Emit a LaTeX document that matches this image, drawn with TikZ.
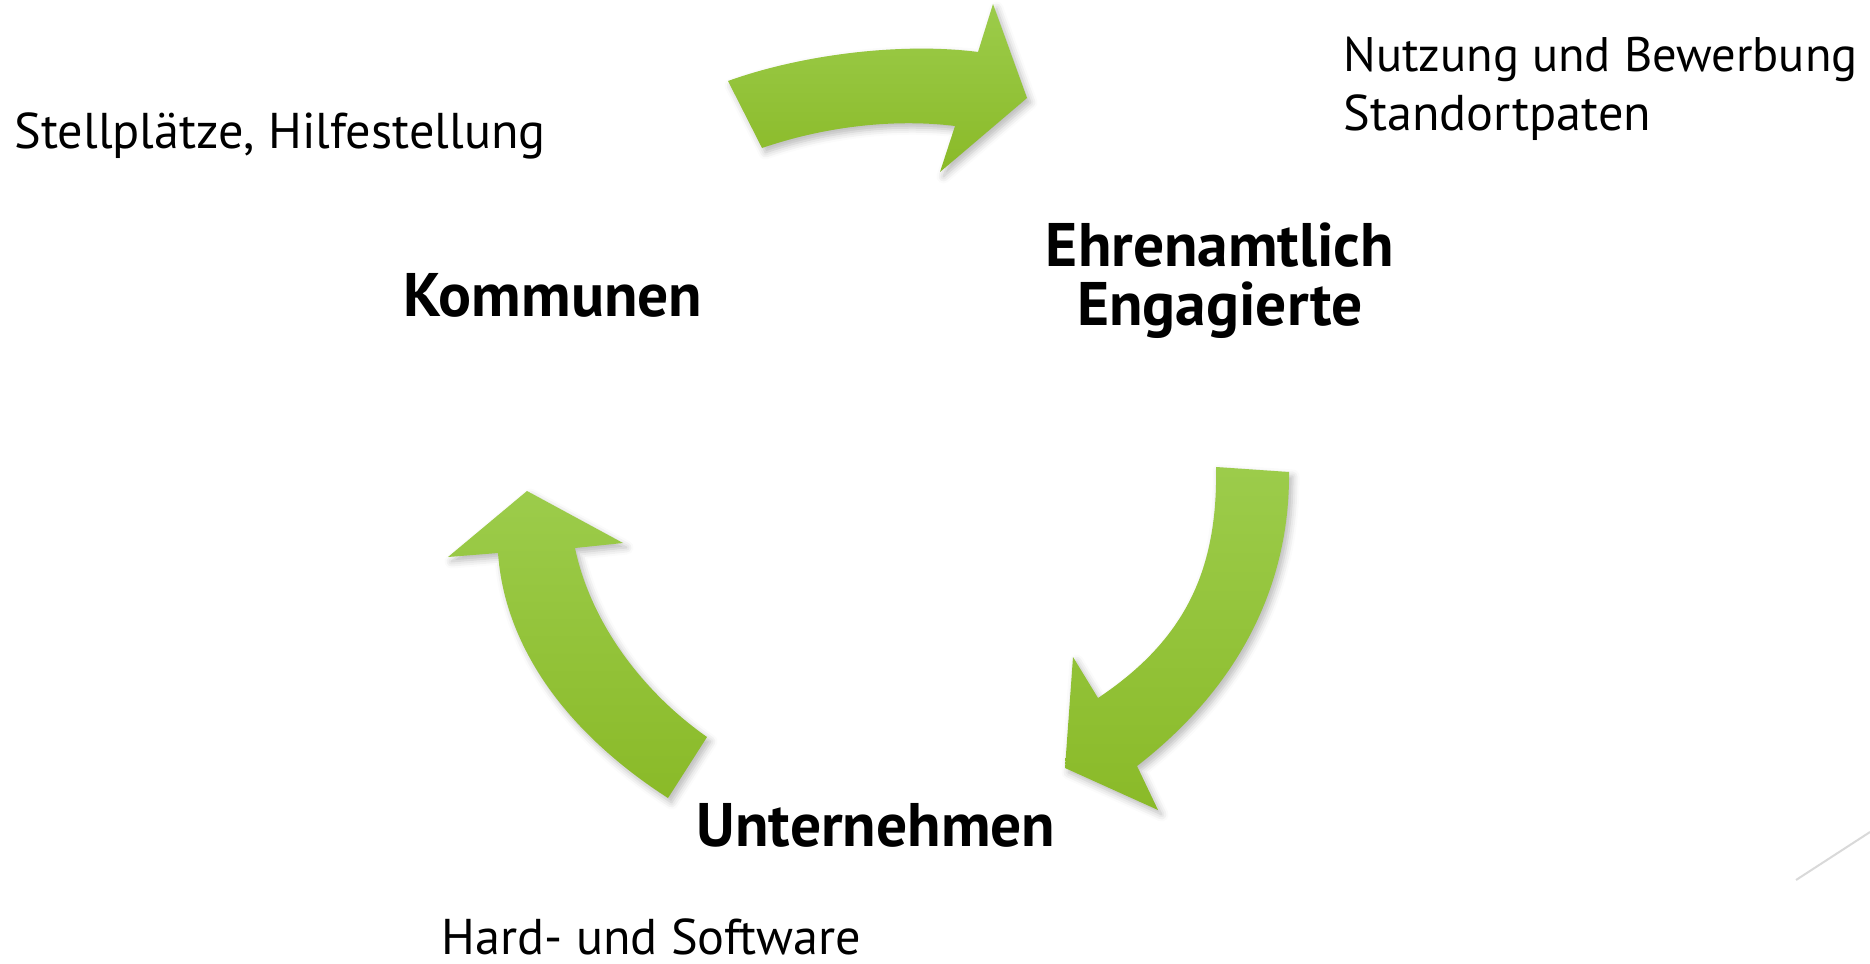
\documentclass[tikz,border=0pt]{standalone}
\usepackage{fontspec}
\setmainfont{PT Sans}
\usetikzlibrary{shadows.blur}
\definecolor{greenTop}{HTML}{9CCC4B}
\definecolor{greenBottom}{HTML}{8ABA28}
\definecolor{rule}{HTML}{D9D9D9}
\tikzset{
  cyclearrow/.style={top color=greenTop, bottom color=greenBottom, draw=none,
    blur shadow={shadow xshift=0.35mm, shadow yshift=-0.45mm,
                 shadow blur radius=0.7mm, shadow opacity=28}},
  actor/.style={inner sep=0pt, font=\fontsize{17.5pt}{20pt}\selectfont\bfseries},
  note/.style={inner sep=0pt, font=\fontsize{14.3pt}{17pt}\selectfont},
}
\begin{document}
\begin{tikzpicture}[x=0.1mm, y=-0.1mm]
  \useasboundingbox (0,0) rectangle (1870,964);

  % top arrow: Kommunen -> Ehrenamtlich Engagierte
  \path[cyclearrow] (728,81) .. controls (800,55) and (900,42) .. (978,52)
    -- (993,4) -- (1027,98) -- (940,172) -- (955,126)
    .. controls (890,118) and (820,128) .. (762,148) -- cycle;

  % right arrow: Ehrenamtlich Engagierte -> Unternehmen
  \path[cyclearrow] (1216,467) -- (1289,472)
    .. controls (1290,590) and (1235,690) .. (1137,766)
    -- (1158,810) -- (1065,768) -- (1073,657) -- (1098,698)
    .. controls (1185,640) and (1218,570) .. (1216,467) -- cycle;

  % left arrow: Unternehmen -> Kommunen
  \path[cyclearrow] (668,798) .. controls (570,735) and (505,650) .. (498,553)
    -- (448,557) -- (527,491) -- (623,543) -- (575,548)
    .. controls (590,620) and (640,690) .. (707,737) -- cycle;

  % actors
  \node[actor, anchor=base] (kommunen) at (553,317) {Kommunen};
  \node[actor, anchor=base] (ehren) at (1220,267) {Ehrenamtlich};
  \node[actor, anchor=base] (engagierte) at (1220,326) {Engagierte};
  \node[actor, anchor=base] (unternehmen) at (876,846) {Unternehmen};

  % contributions
  \node[note, anchor=base west] (stell) at (14,149) {Stellplätze, Hilfestellung};
  \node[note, anchor=base west, font=\fontsize{13.8pt}{17pt}\selectfont]
    (nutzung) at (1343,72) {Nutzung und Bewerbung};
  \node[note, anchor=base west] (paten) at (1343,131) {Standortpaten};
  \node[note, anchor=base west] (hard) at (441,954) {Hard- und Software};

  % thin corner rule
  \coordinate (ruleA) at (1796,880);
  \coordinate (ruleB) at (1870,832);
  \draw[rule, line width=0.2mm] (ruleA) -- (ruleB);
\end{tikzpicture}
\end{document}
